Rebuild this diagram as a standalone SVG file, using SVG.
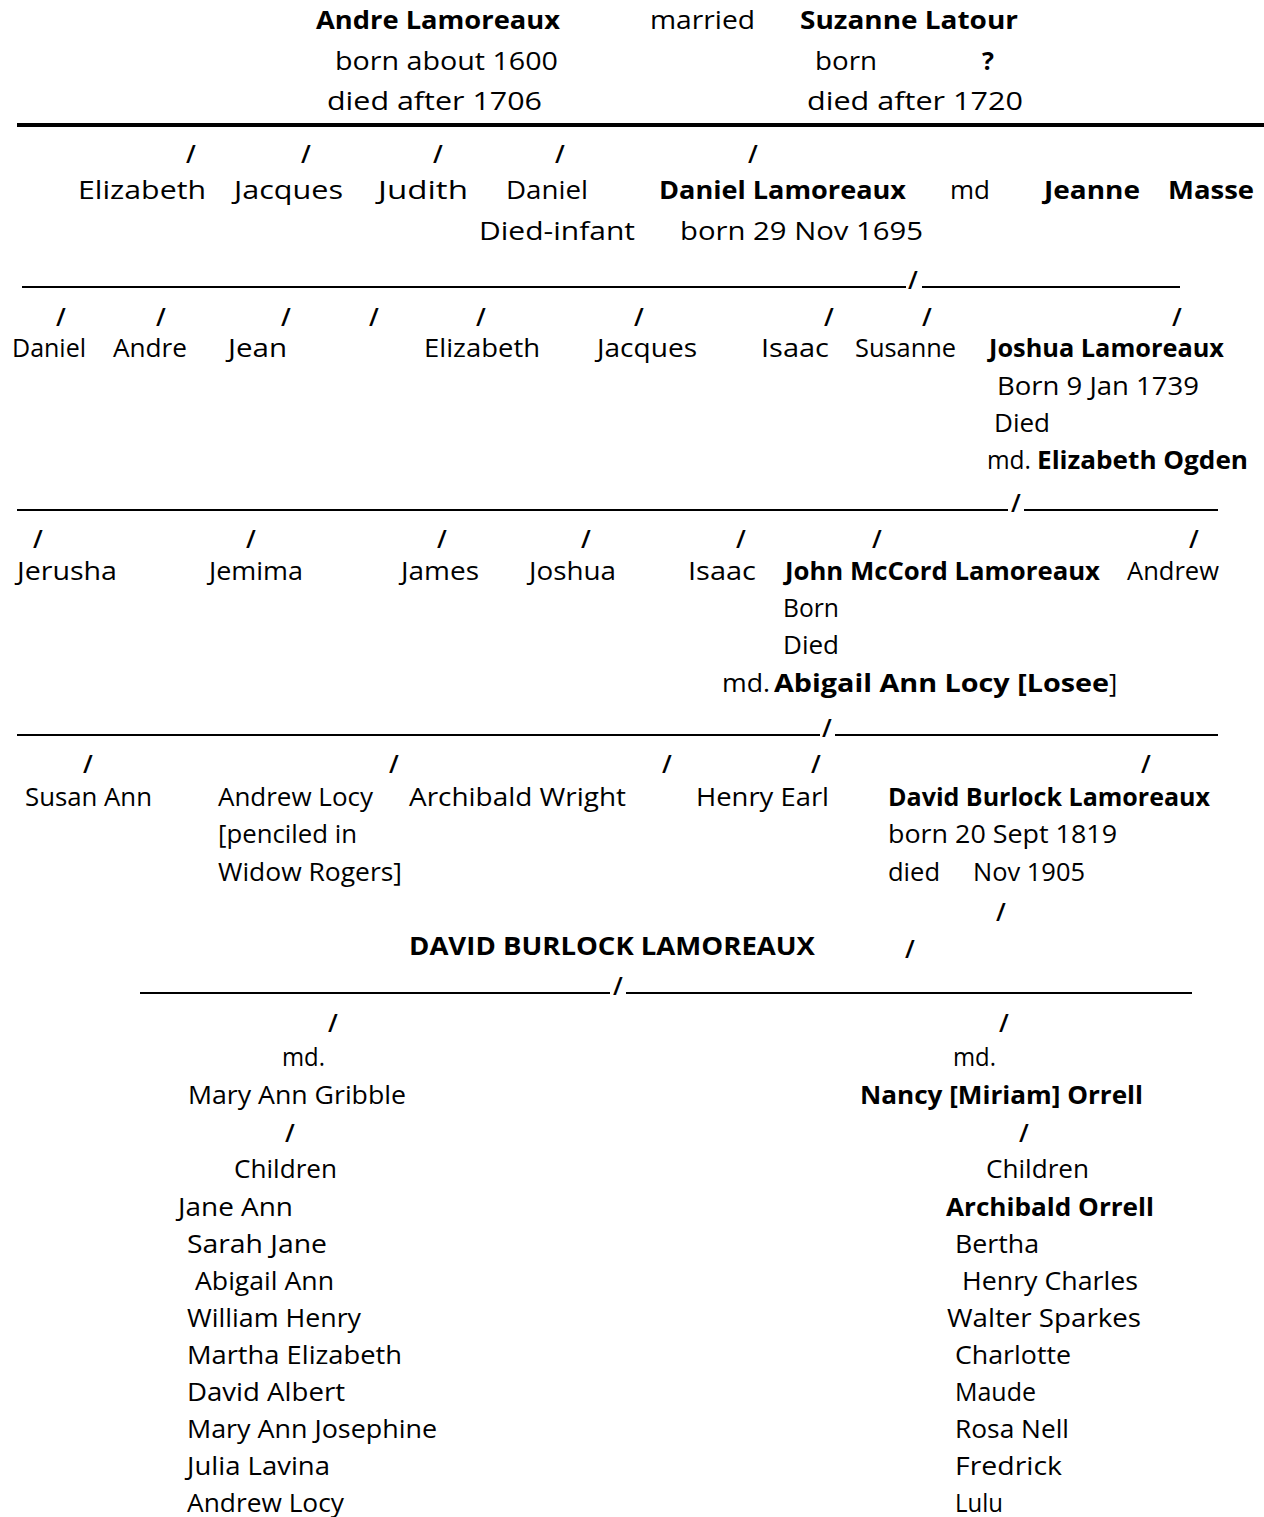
<svg xmlns="http://www.w3.org/2000/svg" width="1264" height="1517" viewBox="0 0 1264 1517">
<style>
text{font-family:"Open Sans","DejaVu Sans",sans-serif;font-size:25px;fill:#000}
.b{font-weight:bold}
.sl text{font-weight:600}
.u{stroke:#000;stroke-width:2.2;fill:none}
.t{stroke:#000;stroke-width:4;fill:none}
</style>
<rect width="1264" height="1517" fill="#fff"/>
<g id="connectors">
<line class="t" x1="17" y1="125" x2="1264" y2="125"/>
<line class="u" x1="22" y1="287" x2="906" y2="287"/>
<line class="u" x1="922" y1="287" x2="1180" y2="287"/>
<line class="u" x1="17" y1="510" x2="1008" y2="510"/>
<line class="u" x1="1024" y1="510" x2="1218" y2="510"/>
<line class="u" x1="17" y1="735" x2="820" y2="735"/>
<line class="u" x1="835" y1="735" x2="1218" y2="735"/>
<line class="u" x1="140" y1="993" x2="610" y2="993"/>
<line class="u" x1="626" y1="993" x2="1192" y2="993"/>
<g class="sl">
<text x="186" y="163">/</text><text x="301" y="163">/</text><text x="433" y="163">/</text><text x="555" y="163">/</text><text x="748" y="163">/</text>
<text x="908" y="289">/</text>
<text x="56" y="326">/</text><text x="156" y="326">/</text><text x="281" y="326">/</text><text x="369" y="326">/</text><text x="476" y="326">/</text><text x="634" y="326">/</text><text x="824" y="326">/</text><text x="922" y="326">/</text><text x="1172" y="326">/</text>
<text x="1011" y="512">/</text>
<text x="33" y="548">/</text><text x="246" y="548">/</text><text x="437" y="548">/</text><text x="581" y="548">/</text><text x="736" y="548">/</text><text x="872" y="548">/</text><text x="1189" y="548">/</text>
<text x="822" y="737">/</text>
<text x="83" y="773">/</text><text x="389" y="773">/</text><text x="662" y="773">/</text><text x="811" y="773">/</text><text x="1141" y="773">/</text>
<text x="996" y="921">/</text>
<text x="905" y="958">/</text>
<text x="613" y="995">/</text>
<text x="328" y="1032">/</text><text x="999" y="1032">/</text>
<text x="285" y="1142">/</text><text x="1019" y="1142">/</text>
</g>
</g>
<g id="andre">
<text class="b" x="316" y="29" textLength="244" lengthAdjust="spacingAndGlyphs">Andre Lamoreaux</text>
<text x="335" y="70" textLength="223" lengthAdjust="spacingAndGlyphs">born about 1600</text>
<text x="327" y="110" textLength="215" lengthAdjust="spacingAndGlyphs">died after 1706</text>
</g>
<g id="married">
<text x="650" y="29" textLength="105" lengthAdjust="spacingAndGlyphs">married</text>
</g>
<g id="suzanne">
<text class="b" x="800" y="29" textLength="218" lengthAdjust="spacingAndGlyphs">Suzanne Latour</text>
<text x="815" y="70" textLength="62" lengthAdjust="spacingAndGlyphs">born</text>
<text class="b" x="982" y="70">?</text>
<text x="807" y="110" textLength="216" lengthAdjust="spacingAndGlyphs">died after 1720</text>
</g>
<g id="gen2">
<text x="78" y="199" textLength="128" lengthAdjust="spacingAndGlyphs">Elizabeth</text>
<text x="234" y="199" textLength="109" lengthAdjust="spacingAndGlyphs">Jacques</text>
<text x="378" y="199" textLength="90" lengthAdjust="spacingAndGlyphs">Judith</text>
<text x="506" y="199" textLength="82" lengthAdjust="spacingAndGlyphs">Daniel</text>
<text x="479" y="240" textLength="156" lengthAdjust="spacingAndGlyphs">Died-infant</text>
</g>
<g id="daniel">
<text class="b" x="659" y="199" textLength="247" lengthAdjust="spacingAndGlyphs">Daniel Lamoreaux</text>
<text x="680" y="240" textLength="243" lengthAdjust="spacingAndGlyphs">born 29 Nov 1695</text>
<text x="950" y="199" textLength="40" lengthAdjust="spacingAndGlyphs">md</text>
</g>
<g id="jeanne">
<text class="b" x="1044" y="199" textLength="96" lengthAdjust="spacingAndGlyphs">Jeanne</text>
<text class="b" x="1168" y="199" textLength="86" lengthAdjust="spacingAndGlyphs">Masse</text>
</g>
<g id="gen3">
<text x="12" y="357" textLength="74" lengthAdjust="spacingAndGlyphs">Daniel</text>
<text x="113" y="357" textLength="74" lengthAdjust="spacingAndGlyphs">Andre</text>
<text x="228" y="357" textLength="59" lengthAdjust="spacingAndGlyphs">Jean</text>
<text x="424" y="357" textLength="116" lengthAdjust="spacingAndGlyphs">Elizabeth</text>
<text x="597" y="357" textLength="100" lengthAdjust="spacingAndGlyphs">Jacques</text>
<text x="761" y="357" textLength="68" lengthAdjust="spacingAndGlyphs">Isaac</text>
<text x="855" y="357" textLength="101" lengthAdjust="spacingAndGlyphs">Susanne</text>
</g>
<g id="joshua">
<text class="b" x="989" y="357" textLength="235" lengthAdjust="spacingAndGlyphs">Joshua Lamoreaux</text>
<text x="997" y="395" textLength="202" lengthAdjust="spacingAndGlyphs">Born 9 Jan 1739</text>
<text x="994" y="432" textLength="56" lengthAdjust="spacingAndGlyphs">Died</text>
<text x="987" y="469" textLength="44" lengthAdjust="spacingAndGlyphs">md.</text>
<text class="b" x="1037" y="469" textLength="211" lengthAdjust="spacingAndGlyphs">Elizabeth Ogden</text>
</g>
<g id="gen4">
<text x="17" y="580" textLength="100" lengthAdjust="spacingAndGlyphs">Jerusha</text>
<text x="209" y="580" textLength="94" lengthAdjust="spacingAndGlyphs">Jemima</text>
<text x="401" y="580" textLength="78" lengthAdjust="spacingAndGlyphs">James</text>
<text x="529" y="580" textLength="87" lengthAdjust="spacingAndGlyphs">Joshua</text>
<text x="688" y="580" textLength="68" lengthAdjust="spacingAndGlyphs">Isaac</text>
<text x="1127" y="580" textLength="92" lengthAdjust="spacingAndGlyphs">Andrew</text>
</g>
<g id="john">
<text class="b" x="785" y="580" textLength="315" lengthAdjust="spacingAndGlyphs">John McCord Lamoreaux</text>
<text x="783" y="617" textLength="56" lengthAdjust="spacingAndGlyphs">Born</text>
<text x="783" y="654" textLength="56" lengthAdjust="spacingAndGlyphs">Died</text>
<text x="722" y="692" textLength="48" lengthAdjust="spacingAndGlyphs">md.</text>
<text class="b" x="774" y="692" textLength="335" lengthAdjust="spacingAndGlyphs">Abigail Ann Locy [Losee</text>
<text x="1109" y="692">]</text>
</g>
<g id="gen5">
<text x="25" y="806" textLength="127" lengthAdjust="spacingAndGlyphs">Susan Ann</text>
<text x="218" y="806" textLength="155" lengthAdjust="spacingAndGlyphs">Andrew Locy</text>
<text x="218" y="843" textLength="139" lengthAdjust="spacingAndGlyphs">[penciled in</text>
<text x="218" y="881" textLength="184" lengthAdjust="spacingAndGlyphs">Widow Rogers]</text>
<text x="409" y="806" textLength="217" lengthAdjust="spacingAndGlyphs">Archibald Wright</text>
<text x="696" y="806" textLength="133" lengthAdjust="spacingAndGlyphs">Henry Earl</text>
</g>
<g id="david">
<text class="b" x="888" y="806" textLength="322" lengthAdjust="spacingAndGlyphs">David Burlock Lamoreaux</text>
<text x="888" y="843" textLength="229" lengthAdjust="spacingAndGlyphs">born 20 Sept 1819</text>
<text x="888" y="881" textLength="52" lengthAdjust="spacingAndGlyphs">died</text>
<text x="973" y="881" textLength="112" lengthAdjust="spacingAndGlyphs">Nov 1905</text>
</g>
<g id="david-title">
<text class="b" x="409" y="955" textLength="406" lengthAdjust="spacingAndGlyphs">DAVID BURLOCK LAMOREAUX</text>
</g>
<g id="mary">
<text x="282" y="1066" textLength="43" lengthAdjust="spacingAndGlyphs">md.</text>
<text x="188" y="1104" textLength="218" lengthAdjust="spacingAndGlyphs">Mary Ann Gribble</text>
<text x="234" y="1178" textLength="103" lengthAdjust="spacingAndGlyphs">Children</text>
<text x="178" y="1216" textLength="115" lengthAdjust="spacingAndGlyphs">Jane Ann</text>
<text x="187" y="1253" textLength="140" lengthAdjust="spacingAndGlyphs">Sarah Jane</text>
<text x="195" y="1290" textLength="139" lengthAdjust="spacingAndGlyphs">Abigail Ann</text>
<text x="187" y="1327" textLength="174" lengthAdjust="spacingAndGlyphs">William Henry</text>
<text x="187" y="1364" textLength="215" lengthAdjust="spacingAndGlyphs">Martha Elizabeth</text>
<text x="187" y="1401" textLength="158" lengthAdjust="spacingAndGlyphs">David Albert</text>
<text x="187" y="1438" textLength="250" lengthAdjust="spacingAndGlyphs">Mary Ann Josephine</text>
<text x="187" y="1475" textLength="143" lengthAdjust="spacingAndGlyphs">Julia Lavina</text>
<text x="187" y="1512" textLength="157" lengthAdjust="spacingAndGlyphs">Andrew Locy</text>
</g>
<g id="nancy">
<text x="953" y="1066" textLength="43" lengthAdjust="spacingAndGlyphs">md.</text>
<text class="b" x="860" y="1104" textLength="283" lengthAdjust="spacingAndGlyphs">Nancy [Miriam] Orrell</text>
<text x="986" y="1178" textLength="103" lengthAdjust="spacingAndGlyphs">Children</text>
<text class="b" x="946" y="1216" textLength="208" lengthAdjust="spacingAndGlyphs">Archibald Orrell</text>
<text x="955" y="1253" textLength="84" lengthAdjust="spacingAndGlyphs">Bertha</text>
<text x="962" y="1290" textLength="176" lengthAdjust="spacingAndGlyphs">Henry Charles</text>
<text x="947" y="1327" textLength="194" lengthAdjust="spacingAndGlyphs">Walter Sparkes</text>
<text x="955" y="1364" textLength="116" lengthAdjust="spacingAndGlyphs">Charlotte</text>
<text x="955" y="1401" textLength="81" lengthAdjust="spacingAndGlyphs">Maude</text>
<text x="955" y="1438" textLength="114" lengthAdjust="spacingAndGlyphs">Rosa Nell</text>
<text x="955" y="1475" textLength="107" lengthAdjust="spacingAndGlyphs">Fredrick</text>
<text x="955" y="1512" textLength="48" lengthAdjust="spacingAndGlyphs">Lulu</text>
</g>
</svg>
